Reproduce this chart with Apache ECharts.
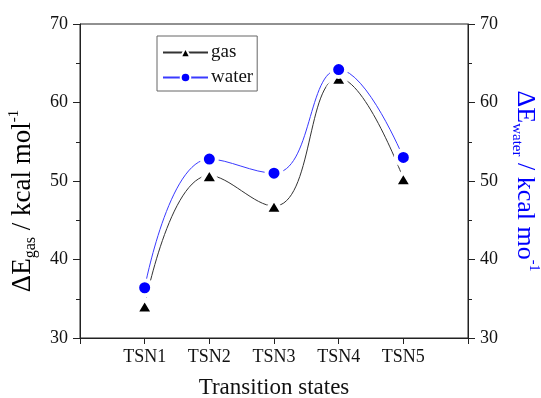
<!DOCTYPE html>
<html>
<head>
<meta charset="utf-8">
<script src="https://cdn.jsdelivr.net/npm/echarts@6/dist/echarts.min.js"></script>
<style>html,body{margin:0;padding:0;background:#fff;}#c{width:541px;height:398px;}</style>
</head>
<body>
<div id="c"></div>
<script>
var categories = ['TSN1', 'TSN2', 'TSN3', 'TSN4', 'TSN5'];
var gasValues = [34.1, 50.7, 46.8, 63.1, 50.3];
var waterValues = [36.4, 52.8, 51.0, 64.2, 53.0];
var yTicks = [30, 40, 50, 60, 70];

var FONT = 'Liberation Serif, Times New Roman, serif';
var chart = echarts.init(document.getElementById('c'), null, {renderer: 'canvas'});

function richName(color, main, sub) {
  return {
    fontFamily: FONT, color: color,
    rich: {
      m: {fontFamily: FONT, fontSize: main, lineHeight: main + 6, color: color},
      sub: {fontFamily: FONT, fontSize: sub, lineHeight: sub, verticalAlign: 'bottom', color: color},
      sup: {fontFamily: FONT, fontSize: sub - 1, lineHeight: sub - 1, verticalAlign: 'top', color: color}
    }
  };
}

var leftName = richName('#000', 27, 16);
leftName.padding = [0, 40, 0, 0];
var rightName = richName('#0000ff', 26, 15);

function yAxisCfg(pos, name, nameStyle, gap, rot) {
  return {
    type: 'value', position: pos, min: yTicks[0], max: yTicks[yTicks.length - 1], interval: 10,
    name: name, nameLocation: 'middle', nameGap: gap, nameRotate: rot, nameTextStyle: nameStyle,
    axisLine: {show: true, lineStyle: {color: '#222', width: 1}},
    axisTick: {show: true, length: 7, lineStyle: {color: '#222'}},
    minorTick: {show: true, splitNumber: 2, length: 4, lineStyle: {color: '#222'}},
    splitLine: {show: false},
    axisLabel: {fontFamily: FONT, fontSize: 18, color: '#111', margin: 12}
  };
}

chart.setOption({
  animation: false,
  backgroundColor: '#fff',
  grid: {left: 80, right: 73, top: 24, bottom: 60, outerBoundsMode: 'none', containLabel: false,
         show: true, borderColor: '#222', borderWidth: 1, backgroundColor: 'transparent'},
  legend: {
    left: 157, top: 36, orient: 'vertical',
    data: ['gas', 'water'],
    borderColor: '#666', borderWidth: 1, padding: [7, 4, 4, 5],
    itemWidth: 45, itemHeight: 12, itemGap: 6,
    textStyle: {fontFamily: FONT, fontSize: 19, lineHeight: 19, color: '#111', padding: [0, 0, 0, -2]}
  },
  xAxis: {
    type: 'value', min: 0, max: categories.length + 1, interval: 1,
    name: 'Transition states', nameLocation: 'middle', nameGap: 38,
    nameTextStyle: {fontFamily: FONT, fontSize: 23, color: '#111'},
    axisLine: {show: true, onZero: false, lineStyle: {color: '#222', width: 1}},
    axisTick: {show: true, length: 6, lineStyle: {color: '#222'}},
    splitLine: {show: false},
    axisLabel: {
      fontFamily: FONT, fontSize: 18, color: '#111', margin: 10,
      formatter: function (v) { return categories[v - 1] || ''; }
    }
  },
  yAxis: [
    yAxisCfg('left', '{m|ΔE}{sub|gas}{m| / kcal mol}{sup|-1}', leftName, 34, 90),
    yAxisCfg('right', '{m|ΔE}{sub|water}{m| / kcal mo}{sup|-1}', rightName, 41, -90)
  ],
  series: [
    {
      name: 'gas', type: 'line', yAxisIndex: 0, smooth: 0.45,
      data: gasValues.map(function (v, i) { return [i + 1, v]; }),
      symbol: 'triangle', symbolSize: [18, 15],
      lineStyle: {color: '#333', width: 1},
      itemStyle: {color: '#000', borderColor: '#fff', borderWidth: 4},
      emphasis: {disabled: true}, z: 2
    },
    {
      name: 'water', type: 'line', yAxisIndex: 1, smooth: 0.45,
      data: waterValues.map(function (v, i) { return [i + 1, v]; }),
      symbol: 'circle', symbolSize: 15,
      lineStyle: {color: '#3a3aff', width: 1},
      itemStyle: {color: '#0000ff', borderColor: '#fff', borderWidth: 4},
      emphasis: {disabled: true}, z: 3
    }
  ]
});
</script>
</body>
</html>
